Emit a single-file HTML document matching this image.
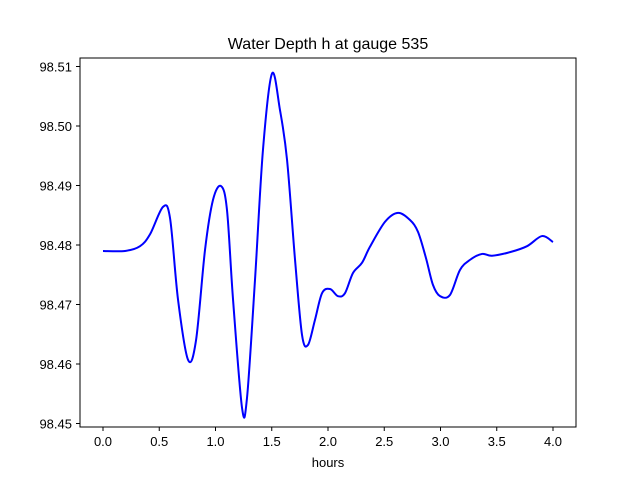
<!DOCTYPE html>
<html><head><meta charset="utf-8"><style>
body{margin:0;background:#fff;}
svg text{font-family:"Liberation Sans","DejaVu Sans",sans-serif;fill:#000;}
</style></head><body>
<svg id="chart" width="640" height="480">
<rect width="640" height="480" fill="#fff"/>
<text x="328" y="49" font-size="16" text-anchor="middle">Water Depth h at gauge 535</text>
<g id="axes"></g>
<path id="line" fill="none" stroke="#0000ff" stroke-width="2"/>
<rect x="80" y="58" width="496" height="369" fill="none" stroke="#000" stroke-width="1"/>
<text x="328" y="467" font-size="13" text-anchor="middle">hours</text>
</svg>
<script>
const times=[0,0.196,0.329,0.418,0.533,0.596,0.667,0.756,0.827,0.907,0.978,1.049,1.102,1.156,1.236,1.28,1.351,1.422,1.502,1.573,1.636,1.707,1.769,1.822,1.884,1.947,2.018,2.089,2.151,2.222,2.302,2.373,2.507,2.622,2.729,2.8,2.871,2.933,2.996,3.084,3.173,3.262,3.369,3.458,3.618,3.769,3.902,4.0];
const depths=[98.4790,98.4790,98.4798,98.4818,98.4864,98.4845,98.4708,98.4607,98.4640,98.4792,98.4876,98.4899,98.4859,98.4708,98.4526,98.4543,98.4741,98.4960,98.5088,98.5027,98.4943,98.4775,98.4649,98.4632,98.4674,98.4719,98.4726,98.4714,98.4719,98.4753,98.4770,98.4797,98.4839,98.4854,98.4842,98.4822,98.4778,98.4733,98.4714,98.4716,98.4758,98.4775,98.4785,98.4782,98.4788,98.4798,98.4815,98.4805];
const xTicks=[0,0.5,1,1.5,2,2.5,3,3.5,4];
const xTickLabels=["0.0","0.5","1.0","1.5","2.0","2.5","3.0","3.5","4.0"];
const yTicks=[98.45,98.46,98.47,98.48,98.49,98.50,98.51];
const yTickLabels=["98.45","98.46","98.47","98.48","98.49","98.50","98.51"];
const X=t=>103+t*112.5;
const Y=v=>245-(v-98.48)*5950;
const NS="http://www.w3.org/2000/svg";
const ax=document.getElementById('axes');
xTicks.forEach((t,i)=>{
 const l=document.createElementNS(NS,'line');
 
 
 l.setAttribute('x1',X(t));l.setAttribute('x2',X(t));l.setAttribute('y1',427);l.setAttribute('y2',431);l.setAttribute('stroke','#000');
 ax.appendChild(l);
 const tx=document.createElementNS(NS,'text');
 
 
 tx.setAttribute('x',X(t));tx.setAttribute('y',446);tx.setAttribute('font-size','13');tx.setAttribute('text-anchor','middle');
 tx.textContent=xTickLabels[i];ax.appendChild(tx);
});
yTicks.forEach((v,i)=>{
 const l=document.createElementNS(NS,'line');
 
 
 l.setAttribute('x1',76);l.setAttribute('x2',80);l.setAttribute('y1',Y(v));l.setAttribute('y2',Y(v));l.setAttribute('stroke','#000');
 ax.appendChild(l);
 const tx=document.createElementNS(NS,'text');
 
 
 tx.setAttribute('x',72);tx.setAttribute('y',Y(v)+5);tx.setAttribute('font-size','13');tx.setAttribute('text-anchor','end');
 tx.textContent=yTickLabels[i];ax.appendChild(tx);
});
const P=times.map((t,i)=>[X(t),Y(depths[i])]);
let d='M'+P[0][0]+','+P[0][1];
for(let i=0;i<P.length-1;i++){
 const p0=P[Math.max(0,i-1)],p1=P[i],p2=P[i+1],p3=P[Math.min(P.length-1,i+2)];
 const c1=[p1[0]+(p2[0]-p0[0])/6,p1[1]+(p2[1]-p0[1])/6];
 const c2=[p2[0]-(p3[0]-p1[0])/6,p2[1]-(p3[1]-p1[1])/6];
 d+=' C'+c1[0]+','+c1[1]+' '+c2[0]+','+c2[1]+' '+p2[0]+','+p2[1];
}
document.getElementById('line').setAttribute('d',d);
</script>
</body></html>
